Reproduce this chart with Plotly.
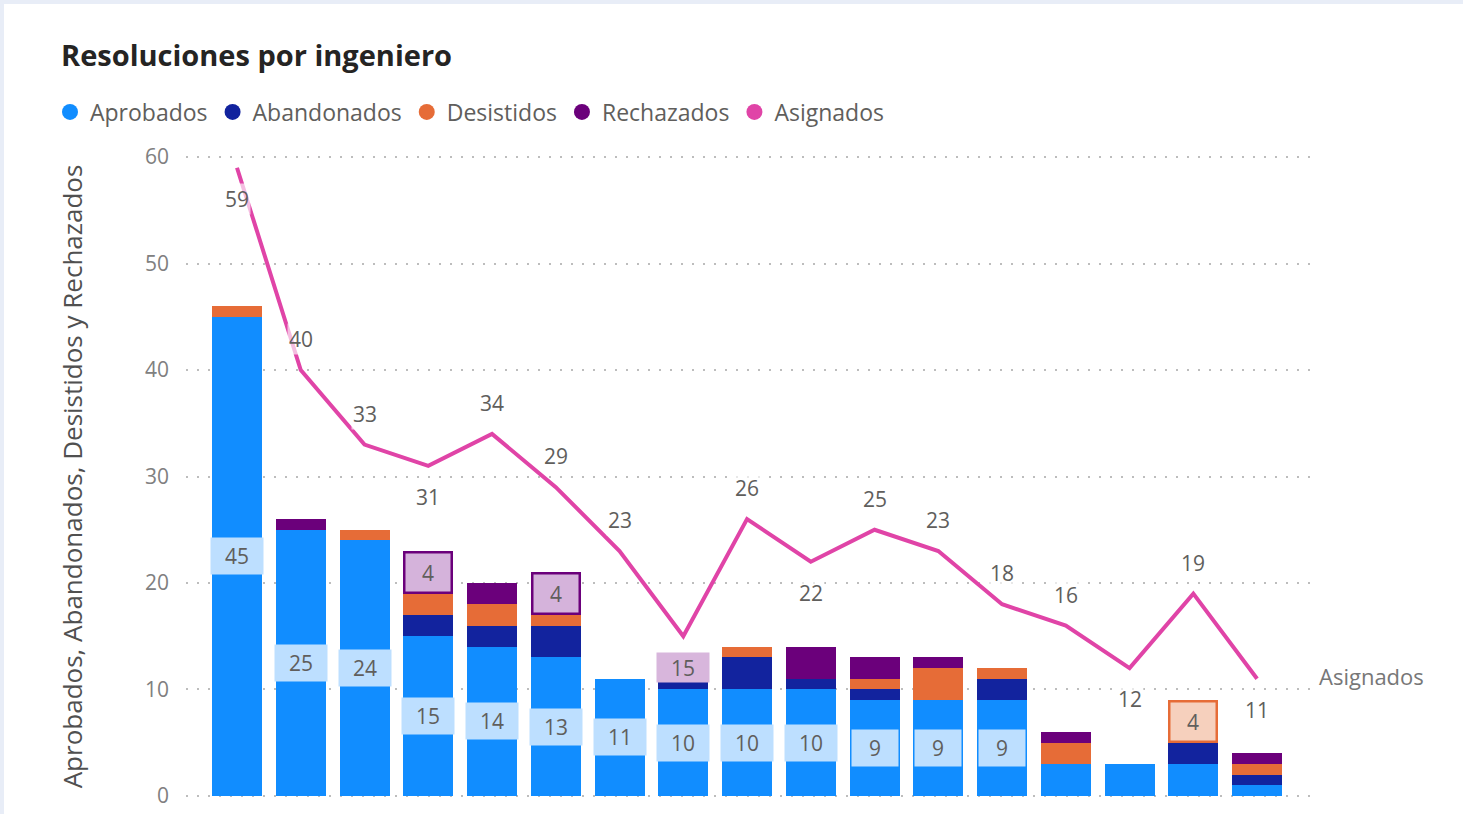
import plotly.graph_objects as go

# ---------------- data ----------------
ingenieros = [f"Ingeniero {i}" for i in range(1, 18)]
aprobados   = [45, 25, 24, 15, 14, 13, 11, 10, 10, 10, 9, 9, 9, 3, 3, 3, 1]
abandonados = [0, 0, 0, 2, 2, 3, 0, 1, 3, 1, 1, 0, 2, 0, 0, 2, 1]
desistidos  = [1, 0, 1, 2, 2, 1, 0, 0, 1, 0, 1, 3, 1, 2, 0, 4, 1]
rechazados  = [0, 1, 0, 4, 2, 4, 0, 2, 0, 3, 2, 1, 0, 1, 0, 0, 1]
asignados   = [59, 40, 33, 31, 34, 29, 23, 15, 26, 22, 25, 23, 18, 16, 12, 19, 11]
# label above (+1) or below (-1) the line point
asig_label_side = [-1, 1, 1, -1, 1, 1, 1, -1, 1, -1, 1, 1, 1, 1, -1, 1, -1]

C_APR = "#118DFF"
C_ABA = "#12239E"
C_DES = "#E66C37"
C_REC = "#6B007B"
C_ASI = "#E044A7"

FONT = "Segoe UI, Open Sans, Noto Sans, sans-serif"
TXT = "#605E5C"
LBL = 21

x = list(range(len(ingenieros)))

fig = go.Figure()
for name, vals, col in [("Aprobados", aprobados, C_APR),
                        ("Abandonados", abandonados, C_ABA),
                        ("Desistidos", desistidos, C_DES),
                        ("Rechazados", rechazados, C_REC)]:
    fig.add_trace(go.Bar(x=x, y=vals, name=name, marker_color=col,
                         marker_line_width=0, showlegend=False))

fig.add_trace(go.Scatter(x=x, y=asignados, name="Asignados", mode="lines",
                         line=dict(color=C_ASI, width=4), showlegend=False))

# legend entries with round symbols
for name, col in [("Aprobados", C_APR), ("Abandonados", C_ABA), ("Desistidos", C_DES),
                  ("Rechazados", C_REC), ("Asignados", C_ASI)]:
    fig.add_trace(go.Scatter(x=[None], y=[None], mode="markers", name=name,
                             marker=dict(symbol="circle", size=17, color=col)))

ann = []
# Aprobados labels (values >= 9)
for i, v in enumerate(aprobados):
    if v >= 9:
        ann.append(dict(x=i, y=v / 2, text=str(v), showarrow=False,
                        font=dict(family=FONT, size=LBL, color=TXT),
                        bgcolor="#BDDFFF", width=50 if v >= 10 else 44,
                        height=34, xref="x", yref="y"))
# Rechazados labels (value 4)
for i, v in enumerate(rechazados):
    if v >= 4:
        base = aprobados[i] + abandonados[i] + desistidos[i]
        ann.append(dict(x=i, y=base + v / 2, text=str(v), showarrow=False,
                        font=dict(family=FONT, size=LBL, color=TXT),
                        bgcolor="#D5B3DB", width=42, height=35))
# Desistidos labels (value 4)
for i, v in enumerate(desistidos):
    if v >= 4:
        base = aprobados[i] + abandonados[i]
        ann.append(dict(x=i, y=base + v / 2, text=str(v), showarrow=False,
                        font=dict(family=FONT, size=LBL, color=TXT),
                        bgcolor="#F6D0BD", width=42, height=35))
# Asignados line labels
for i, (v, s) in enumerate(zip(asignados, asig_label_side)):
    bg = "rgba(255,255,255,0.65)"
    w = None
    h = None
    if i == 7:
        bg = "#D8B6DC"
        w, h = 50, 27
    a = dict(x=i, y=v, text=str(v), showarrow=False, yshift=31 * s,
             font=dict(family=FONT, size=LBL, color=TXT), bgcolor=bg)
    if w:
        a["width"] = w
        a["height"] = h
    ann.append(a)
# series name at end of the line
ann.append(dict(xref="paper", x=1.006, xanchor="left", y=asignados[-1], yshift=3,
                text="Asignados", showarrow=False,
                font=dict(family=FONT, size=22, color="#777777")))

PLOT_H = 814 - 155 - 16
fig.update_layout(
    width=1463, height=814,
    barmode="stack", bargap=0.216,
    paper_bgcolor="#E8EDF7", plot_bgcolor="white",
    margin=dict(l=186, r=153, t=155, b=16, autoexpand=False),
    font=dict(family=FONT, color=TXT),
    title=dict(text="<b>Resoluciones por ingeniero</b>",
               font=dict(family=FONT, size=29, color="#252423"),
               xref="container", x=61 / 1463, xanchor="left",
               yref="container", y=1 - 56 / 814, yanchor="middle"),
    legend=dict(orientation="h", xref="paper", x=-0.121, xanchor="left",
                yref="paper", y=(798 - 112) / PLOT_H, yanchor="middle",
                traceorder="normal",
                font=dict(family=FONT, size=23, color=TXT),
                itemwidth=30, bgcolor="rgba(0,0,0,0)"),
    shapes=[dict(type="rect", xref="paper", yref="paper", layer="below",
                 x0=(4 - 186) / 1124, x1=1.2, y0=-0.1, y1=(798 - 4) / PLOT_H,
                 fillcolor="white", line_width=0)],
    annotations=ann,
    showlegend=True,
)
fig.update_xaxes(type="linear", range=[-0.8, 16.83], showticklabels=False,
                 showgrid=False, zeroline=False, showline=False, fixedrange=True,
                 automargin=False)
fig.update_yaxes(range=[-0.2, 60.2], tickvals=[0, 10, 20, 30, 40, 50, 60],
                 showgrid=True, gridcolor="#BDBDBD",
                 griddash="2px,9px", gridwidth=2, zeroline=False, showline=False,
                 tickfont=dict(family=FONT, size=21, color="#808080"),
                 ticklabelstandoff=16, automargin=False,
                 title=dict(text="Aprobados, Abandonados, Desistidos y Rechazados",
                            font=dict(family=FONT, size=26, color="#505050"),
                            standoff=54))

fig.write_html("out.html", config={"displayModeBar": False},
               post_script="document.body.style.margin='0';")
